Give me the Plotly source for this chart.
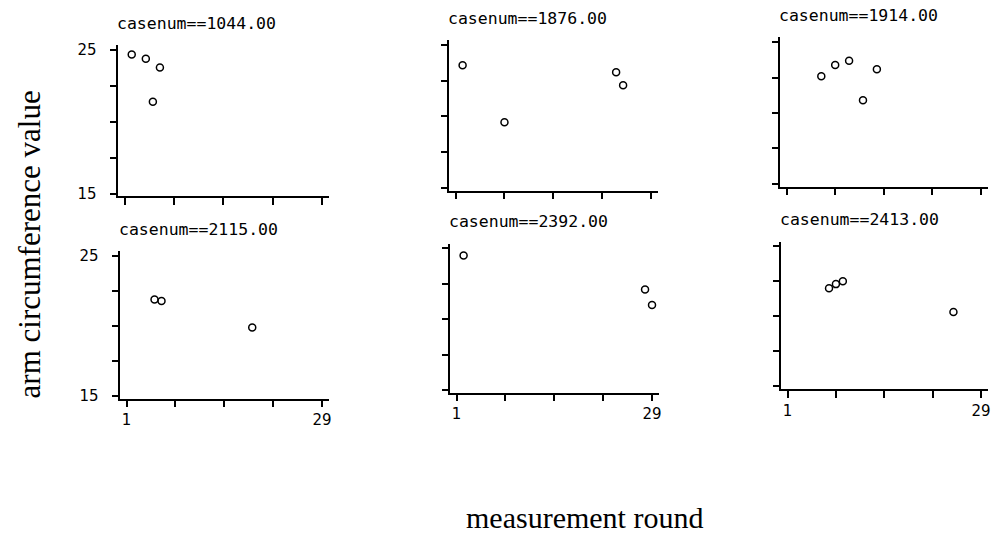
import plotly.graph_objects as go

W, H = 991, 544

# ---- data ----
case_labels = ["1044.00", "1876.00", "1914.00", "2115.00", "2392.00", "2413.00"]

round_1044 = [2, 4, 5, 6]
arm_1044 = [24.7, 24.4, 21.4, 23.8]

round_1876 = [2, 8, 24, 25]
arm_1876 = [23.6, 19.6, 23.1, 22.2]

round_1914 = [6, 8, 10, 12, 14]
arm_1914 = [22.6, 23.4, 23.7, 20.9, 23.1]

round_2115 = [5, 6, 19]
arm_2115 = [21.9, 21.8, 19.9]

round_2392 = [2, 28, 29]
arm_2392 = [24.5, 22.1, 21.0]

round_2413 = [7, 8, 9, 25]
arm_2413 = [22.0, 22.3, 22.5, 20.3]

x_tickvals = [1, 8, 15, 22, 29]
x_ticktext = ["1", "", "", "", "29"]
y_tickvals = [15, 17.5, 20, 22.5, 25]
y_ticktext = ["15", "", "", "", "25"]

x_title = "measurement round"
y_title = "arm circumference value"

series = [
    (round_1044, arm_1044),
    (round_1876, arm_1876),
    (round_1914, arm_1914),
    (round_2115, arm_2115),
    (round_2392, arm_2392),
    (round_2413, arm_2413),
]

# panel pixel boxes: left, right, top, bottom
boxes = [
    (118, 330, 42, 196),
    (450, 660, 37, 190),
    (782, 991, 34, 186),
    (120, 330, 252, 402),
    (451, 661, 244, 396),
    (783, 991, 242, 392),
]

fig = go.Figure()
layout = dict(
    width=W, height=H,
    margin=dict(l=0, r=0, t=0, b=0),
    paper_bgcolor="white", plot_bgcolor="white",
    showlegend=False,
)

tick_font = dict(family="DejaVu Sans", size=15, color="black")
annotations = []

for i, ((xs, ys), (l, r, t, b)) in enumerate(zip(series, boxes)):
    n = "" if i == 0 else str(i + 1)
    fig.add_trace(go.Scatter(
        x=xs, y=ys, mode="markers",
        marker=dict(symbol="circle-open", size=7, color="black", line=dict(width=1.5, color="black")),
        xaxis="x" + n, yaxis="y" + n,
    ))
    row, col = divmod(i, 3)
    layout["xaxis" + n] = dict(
        domain=[l / W, r / W], range=[0, 30], anchor="y" + n,
        showgrid=False, zeroline=False, showline=True, linecolor="black", linewidth=1.5,
        ticks="outside", ticklen=7, tickwidth=1.5, tickcolor="black",
        tickvals=x_tickvals, ticktext=x_ticktext if row == 1 else [""] * 5,
        tickfont=tick_font, fixedrange=True,
    )
    layout["yaxis" + n] = dict(
        domain=[1 - b / H, 1 - t / H], range=[14.8, 25.35], anchor="x" + n,
        showgrid=False, zeroline=False, showline=True, linecolor="black", linewidth=2,
        ticks="outside", ticklen=6, tickwidth=1.5, tickcolor="black",
        tickvals=y_tickvals, ticktext=y_ticktext if col == 0 else [""] * 5,
        tickfont=tick_font, ticklabelstandoff=10, fixedrange=True,
    )
    annotations.append(dict(
        text="casenum==" + case_labels[i], xref="paper", yref="paper",
        x=(l - 3) / W, y=1 - (t - 22) / H, xanchor="left", yanchor="middle",
        showarrow=False, font=dict(family="DejaVu Sans Mono", size=16.5, color="black"),
    ))

annotations.append(dict(
    text=y_title, xref="paper", yref="paper", x=30 / W, y=1 - 245 / H,
    xanchor="center", yanchor="middle", textangle=-90, showarrow=False,
    font=dict(family="Liberation Serif", size=31, color="black"),
))
annotations.append(dict(
    text=x_title, xref="paper", yref="paper", x=586 / W, y=1 - 523 / H,
    xanchor="center", yanchor="middle", showarrow=False,
    font=dict(family="Liberation Serif", size=30, color="black"),
))
layout["annotations"] = annotations
fig.update_layout(**layout)
fig.write_html("out.html")
